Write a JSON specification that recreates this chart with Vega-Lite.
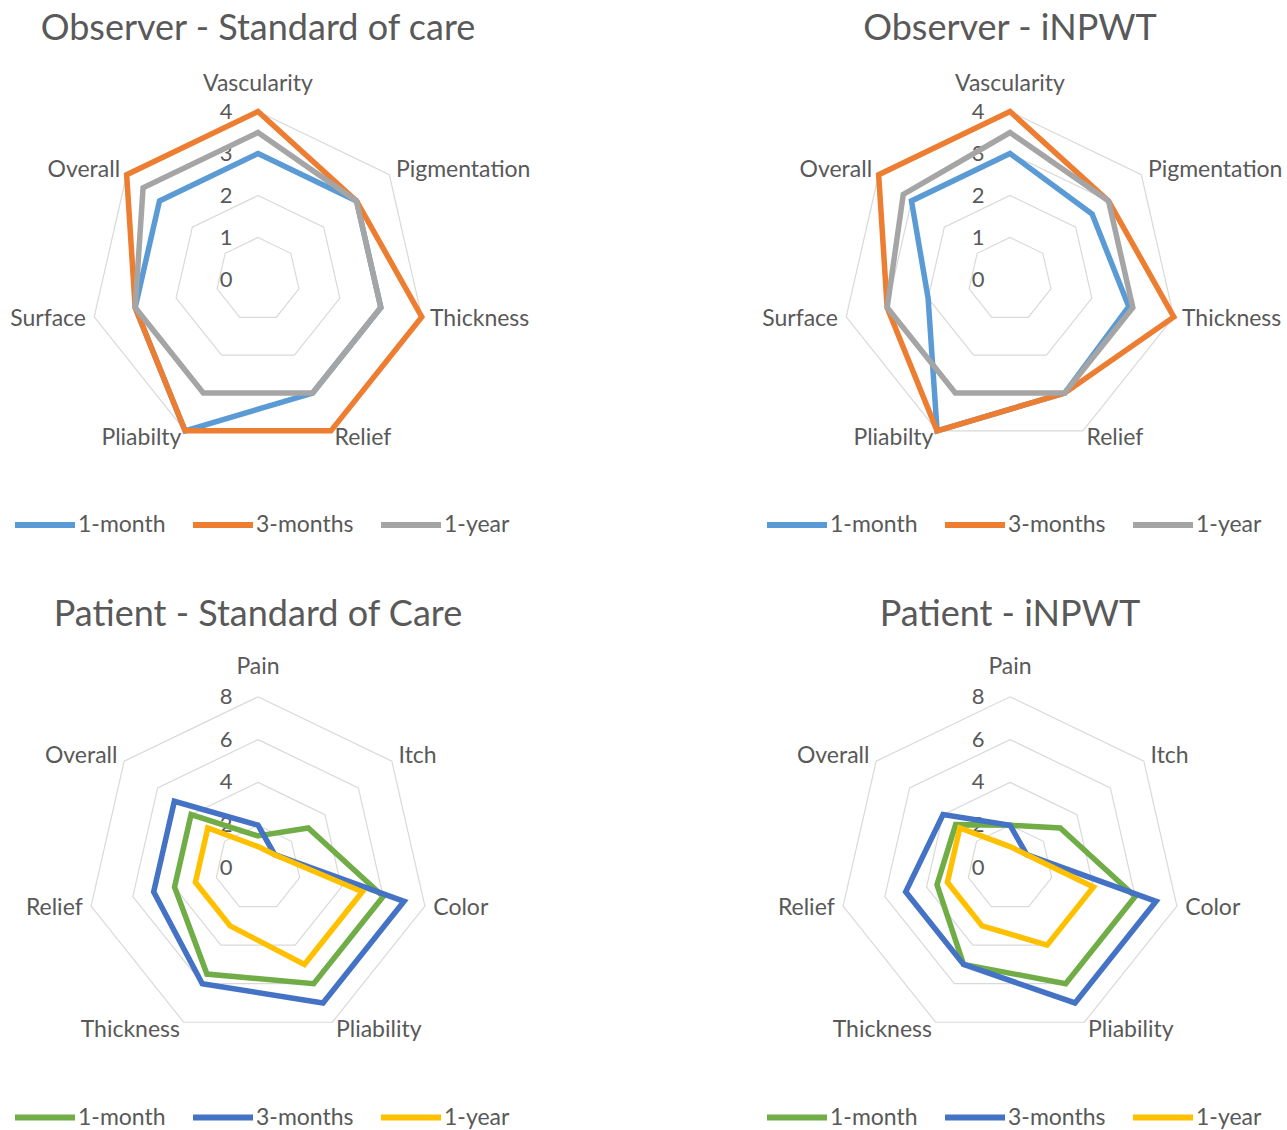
{
  "$schema": "https://vega.github.io/schema/vega-lite/v6.json",
  "padding": {"left": 0, "top": 11, "right": 0, "bottom": 0},
  "background": "white",
  "config": {
    "font": "Lato",
    "view": {"stroke": null},
    "title": {"fontSize": 36, "fontWeight": "normal", "color": "#595959", "anchor": "middle", "frame": "group", "offset": 22},
    "text": {"color": "#595959", "fontSize": 23},
    "legend": {"labelFontSize": 23, "labelColor": "#595959", "symbolType": "stroke", "symbolStrokeWidth": 6, "symbolSize": 3600, "columnPadding": 15, "labelOffset": 0, "padding": 0}
  },
  "datasets": {
    "obsAxes": [
      {"i": 0, "axis": "Vascularity", "ring": [1, 2, 3, 4]},
      {"i": 1, "axis": "Pigmentation", "ring": [1, 2, 3, 4]},
      {"i": 2, "axis": "Thickness", "ring": [1, 2, 3, 4]},
      {"i": 3, "axis": "Relief", "ring": [1, 2, 3, 4]},
      {"i": 4, "axis": "Pliabilty", "ring": [1, 2, 3, 4]},
      {"i": 5, "axis": "Surface", "ring": [1, 2, 3, 4]},
      {"i": 6, "axis": "Overall", "ring": [1, 2, 3, 4]}
    ],
    "patAxes": [
      {"i": 0, "axis": "Pain", "ring": [2, 4, 6, 8]},
      {"i": 1, "axis": "Itch", "ring": [2, 4, 6, 8]},
      {"i": 2, "axis": "Color", "ring": [2, 4, 6, 8]},
      {"i": 3, "axis": "Pliability", "ring": [2, 4, 6, 8]},
      {"i": 4, "axis": "Thickness", "ring": [2, 4, 6, 8]},
      {"i": 5, "axis": "Relief", "ring": [2, 4, 6, 8]},
      {"i": 6, "axis": "Overall", "ring": [2, 4, 6, 8]}
    ],
    "obsTicks": [{"t": 0}, {"t": 1}, {"t": 2}, {"t": 3}, {"t": 4}],
    "patTicks": [{"t": 0}, {"t": 2}, {"t": 4}, {"t": 6}, {"t": 8}],
    "osc": [
      {"series": "1-month", "i": 0, "v": 3}, {"series": "1-month", "i": 1, "v": 3}, {"series": "1-month", "i": 2, "v": 3}, {"series": "1-month", "i": 3, "v": 3}, {"series": "1-month", "i": 4, "v": 4}, {"series": "1-month", "i": 5, "v": 3}, {"series": "1-month", "i": 6, "v": 3},
      {"series": "3-months", "i": 0, "v": 4}, {"series": "3-months", "i": 1, "v": 3}, {"series": "3-months", "i": 2, "v": 4}, {"series": "3-months", "i": 3, "v": 4}, {"series": "3-months", "i": 4, "v": 4}, {"series": "3-months", "i": 5, "v": 3}, {"series": "3-months", "i": 6, "v": 4},
      {"series": "1-year", "i": 0, "v": 3.5}, {"series": "1-year", "i": 1, "v": 3}, {"series": "1-year", "i": 2, "v": 3}, {"series": "1-year", "i": 3, "v": 3}, {"series": "1-year", "i": 4, "v": 3}, {"series": "1-year", "i": 5, "v": 3}, {"series": "1-year", "i": 6, "v": 3.5}
    ],
    "onp": [
      {"series": "1-month", "i": 0, "v": 3}, {"series": "1-month", "i": 1, "v": 2.5}, {"series": "1-month", "i": 2, "v": 2.9}, {"series": "1-month", "i": 3, "v": 3}, {"series": "1-month", "i": 4, "v": 4}, {"series": "1-month", "i": 5, "v": 2}, {"series": "1-month", "i": 6, "v": 3},
      {"series": "3-months", "i": 0, "v": 4}, {"series": "3-months", "i": 1, "v": 3}, {"series": "3-months", "i": 2, "v": 4}, {"series": "3-months", "i": 3, "v": 3}, {"series": "3-months", "i": 4, "v": 4}, {"series": "3-months", "i": 5, "v": 3}, {"series": "3-months", "i": 6, "v": 4},
      {"series": "1-year", "i": 0, "v": 3.5}, {"series": "1-year", "i": 1, "v": 3}, {"series": "1-year", "i": 2, "v": 3}, {"series": "1-year", "i": 3, "v": 3}, {"series": "1-year", "i": 4, "v": 3}, {"series": "1-year", "i": 5, "v": 3}, {"series": "1-year", "i": 6, "v": 3.25}
    ],
    "psc": [
      {"series": "1-month", "i": 0, "v": 1.5}, {"series": "1-month", "i": 1, "v": 3}, {"series": "1-month", "i": 2, "v": 6}, {"series": "1-month", "i": 3, "v": 6}, {"series": "1-month", "i": 4, "v": 5.5}, {"series": "1-month", "i": 5, "v": 4}, {"series": "1-month", "i": 6, "v": 4},
      {"series": "3-months", "i": 0, "v": 2}, {"series": "3-months", "i": 1, "v": 1}, {"series": "3-months", "i": 2, "v": 7}, {"series": "3-months", "i": 3, "v": 7}, {"series": "3-months", "i": 4, "v": 6}, {"series": "3-months", "i": 5, "v": 5}, {"series": "3-months", "i": 6, "v": 5},
      {"series": "1-year", "i": 0, "v": 1}, {"series": "1-year", "i": 1, "v": 1}, {"series": "1-year", "i": 2, "v": 5}, {"series": "1-year", "i": 3, "v": 5}, {"series": "1-year", "i": 4, "v": 3}, {"series": "1-year", "i": 5, "v": 3}, {"series": "1-year", "i": 6, "v": 3}
    ],
    "pnp": [
      {"series": "1-month", "i": 0, "v": 2}, {"series": "1-month", "i": 1, "v": 3}, {"series": "1-month", "i": 2, "v": 6}, {"series": "1-month", "i": 3, "v": 6}, {"series": "1-month", "i": 4, "v": 5}, {"series": "1-month", "i": 5, "v": 3.5}, {"series": "1-month", "i": 6, "v": 3.25},
      {"series": "3-months", "i": 0, "v": 2}, {"series": "3-months", "i": 1, "v": 1}, {"series": "3-months", "i": 2, "v": 7}, {"series": "3-months", "i": 3, "v": 7}, {"series": "3-months", "i": 4, "v": 5}, {"series": "3-months", "i": 5, "v": 5}, {"series": "3-months", "i": 6, "v": 4},
      {"series": "1-year", "i": 0, "v": 1}, {"series": "1-year", "i": 1, "v": 1}, {"series": "1-year", "i": 2, "v": 4}, {"series": "1-year", "i": 3, "v": 4}, {"series": "1-year", "i": 4, "v": 3}, {"series": "1-year", "i": 5, "v": 3}, {"series": "1-year", "i": 6, "v": 3}
    ]
  },
  "vconcat": [
    {
      "hconcat": [
        {
          "width": 516, "height": 419,
          "title": {"text": "Observer - Standard of care"},
          "encoding": {
            "x": {"field": "x", "type": "quantitative", "scale": {"domain": [-6.1429, 6.1429], "nice": false, "zero": false}, "axis": null},
            "y": {"field": "y", "type": "quantitative", "scale": {"domain": [-4.9881, 4.9881], "nice": false, "zero": false}, "axis": null}
          },
          "layer": [
            {"data": {"name": "obsAxes"}, "transform": [{"flatten": ["ring"]}, {"calculate": "datum.ring*sin(2*PI*datum.i/7)", "as": "x"}, {"calculate": "datum.ring*cos(2*PI*datum.i/7)", "as": "y"}],
             "mark": {"type": "line", "interpolate": "linear-closed", "stroke": "#D9D9D9", "strokeWidth": 1.2},
             "encoding": {"detail": {"field": "ring", "type": "nominal"}, "order": {"field": "i", "type": "quantitative"}}},
            {"data": {"name": "obsTicks"}, "transform": [{"calculate": "0", "as": "x"}, {"calculate": "datum.t", "as": "y"}],
             "mark": {"type": "text", "dx": -32, "align": "center", "baseline": "middle", "fontSize": 22},
             "encoding": {"text": {"field": "t", "type": "quantitative"}}},
            {"data": {"name": "osc"}, "transform": [{"calculate": "datum.v*sin(2*PI*datum.i/7)", "as": "x"}, {"calculate": "datum.v*cos(2*PI*datum.i/7)", "as": "y"}],
             "mark": {"type": "line", "interpolate": "linear-closed", "strokeWidth": 5.5, "strokeJoin": "miter"},
             "encoding": {
               "color": {"field": "series", "type": "nominal", "scale": {"domain": ["1-month", "3-months", "1-year"], "range": ["#5B9BD5", "#ED7D31", "#A5A5A5"]},
                         "legend": {"orient": "none", "direction": "horizontal", "legendX": 12, "legendY": 422, "title": null}},
               "order": {"field": "i", "type": "quantitative"}}},
            {"data": {"name": "obsAxes"}, "transform": [{"filter": "datum.i == 0"}, {"calculate": "4.2*sin(2*PI*datum.i/7)", "as": "x"}, {"calculate": "4.2*cos(2*PI*datum.i/7)", "as": "y"}],
             "mark": {"type": "text", "align": "center", "baseline": "bottom", "dy": -7},
             "encoding": {"text": {"field": "axis", "type": "nominal"}}},
            {"data": {"name": "obsAxes"}, "transform": [{"filter": "datum.i >= 1 && datum.i <= 3"}, {"calculate": "4.2*sin(2*PI*datum.i/7)", "as": "x"}, {"calculate": "4.2*cos(2*PI*datum.i/7)", "as": "y"}],
             "mark": {"type": "text", "align": "left", "baseline": "middle"},
             "encoding": {"text": {"field": "axis", "type": "nominal"}}},
            {"data": {"name": "obsAxes"}, "transform": [{"filter": "datum.i >= 4"}, {"calculate": "4.2*sin(2*PI*datum.i/7)", "as": "x"}, {"calculate": "4.2*cos(2*PI*datum.i/7)", "as": "y"}],
             "mark": {"type": "text", "align": "right", "baseline": "middle"},
             "encoding": {"text": {"field": "axis", "type": "nominal"}}}
          ]
        },
        {
          "width": 516, "height": 419,
          "title": {"text": "Observer - iNPWT"},
          "encoding": {
            "x": {"field": "x", "type": "quantitative", "scale": {"domain": [-6.1429, 6.1429], "nice": false, "zero": false}, "axis": null},
            "y": {"field": "y", "type": "quantitative", "scale": {"domain": [-4.9881, 4.9881], "nice": false, "zero": false}, "axis": null}
          },
          "layer": [
            {"data": {"name": "obsAxes"}, "transform": [{"flatten": ["ring"]}, {"calculate": "datum.ring*sin(2*PI*datum.i/7)", "as": "x"}, {"calculate": "datum.ring*cos(2*PI*datum.i/7)", "as": "y"}],
             "mark": {"type": "line", "interpolate": "linear-closed", "stroke": "#D9D9D9", "strokeWidth": 1.2},
             "encoding": {"detail": {"field": "ring", "type": "nominal"}, "order": {"field": "i", "type": "quantitative"}}},
            {"data": {"name": "obsTicks"}, "transform": [{"calculate": "0", "as": "x"}, {"calculate": "datum.t", "as": "y"}],
             "mark": {"type": "text", "dx": -32, "align": "center", "baseline": "middle", "fontSize": 22},
             "encoding": {"text": {"field": "t", "type": "quantitative"}}},
            {"data": {"name": "onp"}, "transform": [{"calculate": "datum.v*sin(2*PI*datum.i/7)", "as": "x"}, {"calculate": "datum.v*cos(2*PI*datum.i/7)", "as": "y"}],
             "mark": {"type": "line", "interpolate": "linear-closed", "strokeWidth": 5.5, "strokeJoin": "miter"},
             "encoding": {
               "color": {"field": "series", "type": "nominal", "scale": {"domain": ["1-month", "3-months", "1-year"], "range": ["#5B9BD5", "#ED7D31", "#A5A5A5"]},
                         "legend": {"orient": "none", "direction": "horizontal", "legendX": 12, "legendY": 422, "title": null}},
               "order": {"field": "i", "type": "quantitative"}}},
            {"data": {"name": "obsAxes"}, "transform": [{"filter": "datum.i == 0"}, {"calculate": "4.2*sin(2*PI*datum.i/7)", "as": "x"}, {"calculate": "4.2*cos(2*PI*datum.i/7)", "as": "y"}],
             "mark": {"type": "text", "align": "center", "baseline": "bottom", "dy": -7},
             "encoding": {"text": {"field": "axis", "type": "nominal"}}},
            {"data": {"name": "obsAxes"}, "transform": [{"filter": "datum.i >= 1 && datum.i <= 3"}, {"calculate": "4.2*sin(2*PI*datum.i/7)", "as": "x"}, {"calculate": "4.2*cos(2*PI*datum.i/7)", "as": "y"}],
             "mark": {"type": "text", "align": "left", "baseline": "middle"},
             "encoding": {"text": {"field": "axis", "type": "nominal"}}},
            {"data": {"name": "obsAxes"}, "transform": [{"filter": "datum.i >= 4"}, {"calculate": "4.2*sin(2*PI*datum.i/7)", "as": "x"}, {"calculate": "4.2*cos(2*PI*datum.i/7)", "as": "y"}],
             "mark": {"type": "text", "align": "right", "baseline": "middle"},
             "encoding": {"text": {"field": "axis", "type": "nominal"}}}
          ]
        }
      ],
      "spacing": 236,
      "bounds": "flush",
      "resolve": {"scale": {"color": "independent"}, "legend": {"color": "independent"}}
    },
    {
      "hconcat": [
        {
          "width": 516, "height": 419,
          "title": {"text": "Patient - Standard of Care"},
          "encoding": {
            "x": {"field": "x", "type": "quantitative", "scale": {"domain": [-12.0561, 12.0561], "nice": false, "zero": false}, "axis": null},
            "y": {"field": "y", "type": "quantitative", "scale": {"domain": [-9.7897, 9.7897], "nice": false, "zero": false}, "axis": null}
          },
          "layer": [
            {"data": {"name": "patAxes"}, "transform": [{"flatten": ["ring"]}, {"calculate": "datum.ring*sin(2*PI*datum.i/7)", "as": "x"}, {"calculate": "datum.ring*cos(2*PI*datum.i/7)", "as": "y"}],
             "mark": {"type": "line", "interpolate": "linear-closed", "stroke": "#D9D9D9", "strokeWidth": 1.2},
             "encoding": {"detail": {"field": "ring", "type": "nominal"}, "order": {"field": "i", "type": "quantitative"}}},
            {"data": {"name": "patTicks"}, "transform": [{"calculate": "0", "as": "x"}, {"calculate": "datum.t", "as": "y"}],
             "mark": {"type": "text", "dx": -32, "align": "center", "baseline": "middle", "fontSize": 22},
             "encoding": {"text": {"field": "t", "type": "quantitative"}}},
            {"data": {"name": "psc"}, "transform": [{"calculate": "datum.v*sin(2*PI*datum.i/7)", "as": "x"}, {"calculate": "datum.v*cos(2*PI*datum.i/7)", "as": "y"}],
             "mark": {"type": "line", "interpolate": "linear-closed", "strokeWidth": 5.5, "strokeJoin": "miter"},
             "encoding": {
               "color": {"field": "series", "type": "nominal", "scale": {"domain": ["1-month", "3-months", "1-year"], "range": ["#70AD47", "#4472C4", "#FFC000"]},
                         "legend": {"orient": "none", "direction": "horizontal", "legendX": 12, "legendY": 426, "title": null}},
               "order": {"field": "i", "type": "quantitative"}}},
            {"data": {"name": "patAxes"}, "transform": [{"filter": "datum.i == 0"}, {"calculate": "8.4*sin(2*PI*datum.i/7)", "as": "x"}, {"calculate": "8.4*cos(2*PI*datum.i/7)", "as": "y"}],
             "mark": {"type": "text", "align": "center", "baseline": "bottom", "dy": -9},
             "encoding": {"text": {"field": "axis", "type": "nominal"}}},
            {"data": {"name": "patAxes"}, "transform": [{"filter": "datum.i >= 1 && datum.i <= 3"}, {"calculate": "8.4*sin(2*PI*datum.i/7)", "as": "x"}, {"calculate": "8.4*cos(2*PI*datum.i/7)", "as": "y"}],
             "mark": {"type": "text", "align": "left", "baseline": "middle"},
             "encoding": {"text": {"field": "axis", "type": "nominal"}}},
            {"data": {"name": "patAxes"}, "transform": [{"filter": "datum.i >= 4"}, {"calculate": "8.4*sin(2*PI*datum.i/7)", "as": "x"}, {"calculate": "8.4*cos(2*PI*datum.i/7)", "as": "y"}],
             "mark": {"type": "text", "align": "right", "baseline": "middle"},
             "encoding": {"text": {"field": "axis", "type": "nominal"}}}
          ]
        },
        {
          "width": 516, "height": 419,
          "title": {"text": "Patient - iNPWT"},
          "encoding": {
            "x": {"field": "x", "type": "quantitative", "scale": {"domain": [-12.0561, 12.0561], "nice": false, "zero": false}, "axis": null},
            "y": {"field": "y", "type": "quantitative", "scale": {"domain": [-9.7897, 9.7897], "nice": false, "zero": false}, "axis": null}
          },
          "layer": [
            {"data": {"name": "patAxes"}, "transform": [{"flatten": ["ring"]}, {"calculate": "datum.ring*sin(2*PI*datum.i/7)", "as": "x"}, {"calculate": "datum.ring*cos(2*PI*datum.i/7)", "as": "y"}],
             "mark": {"type": "line", "interpolate": "linear-closed", "stroke": "#D9D9D9", "strokeWidth": 1.2},
             "encoding": {"detail": {"field": "ring", "type": "nominal"}, "order": {"field": "i", "type": "quantitative"}}},
            {"data": {"name": "patTicks"}, "transform": [{"calculate": "0", "as": "x"}, {"calculate": "datum.t", "as": "y"}],
             "mark": {"type": "text", "dx": -32, "align": "center", "baseline": "middle", "fontSize": 22},
             "encoding": {"text": {"field": "t", "type": "quantitative"}}},
            {"data": {"name": "pnp"}, "transform": [{"calculate": "datum.v*sin(2*PI*datum.i/7)", "as": "x"}, {"calculate": "datum.v*cos(2*PI*datum.i/7)", "as": "y"}],
             "mark": {"type": "line", "interpolate": "linear-closed", "strokeWidth": 5.5, "strokeJoin": "miter"},
             "encoding": {
               "color": {"field": "series", "type": "nominal", "scale": {"domain": ["1-month", "3-months", "1-year"], "range": ["#70AD47", "#4472C4", "#FFC000"]},
                         "legend": {"orient": "none", "direction": "horizontal", "legendX": 12, "legendY": 426, "title": null}},
               "order": {"field": "i", "type": "quantitative"}}},
            {"data": {"name": "patAxes"}, "transform": [{"filter": "datum.i == 0"}, {"calculate": "8.4*sin(2*PI*datum.i/7)", "as": "x"}, {"calculate": "8.4*cos(2*PI*datum.i/7)", "as": "y"}],
             "mark": {"type": "text", "align": "center", "baseline": "bottom", "dy": -9},
             "encoding": {"text": {"field": "axis", "type": "nominal"}}},
            {"data": {"name": "patAxes"}, "transform": [{"filter": "datum.i >= 1 && datum.i <= 3"}, {"calculate": "8.4*sin(2*PI*datum.i/7)", "as": "x"}, {"calculate": "8.4*cos(2*PI*datum.i/7)", "as": "y"}],
             "mark": {"type": "text", "align": "left", "baseline": "middle"},
             "encoding": {"text": {"field": "axis", "type": "nominal"}}},
            {"data": {"name": "patAxes"}, "transform": [{"filter": "datum.i >= 4"}, {"calculate": "8.4*sin(2*PI*datum.i/7)", "as": "x"}, {"calculate": "8.4*cos(2*PI*datum.i/7)", "as": "y"}],
             "mark": {"type": "text", "align": "right", "baseline": "middle"},
             "encoding": {"text": {"field": "axis", "type": "nominal"}}}
          ]
        }
      ],
      "spacing": 236,
      "bounds": "flush",
      "resolve": {"scale": {"color": "independent"}, "legend": {"color": "independent"}}
    }
  ],
  "spacing": 588.5,
  "bounds": "flush",
  "resolve": {"scale": {"color": "independent"}, "legend": {"color": "independent"}}
}
